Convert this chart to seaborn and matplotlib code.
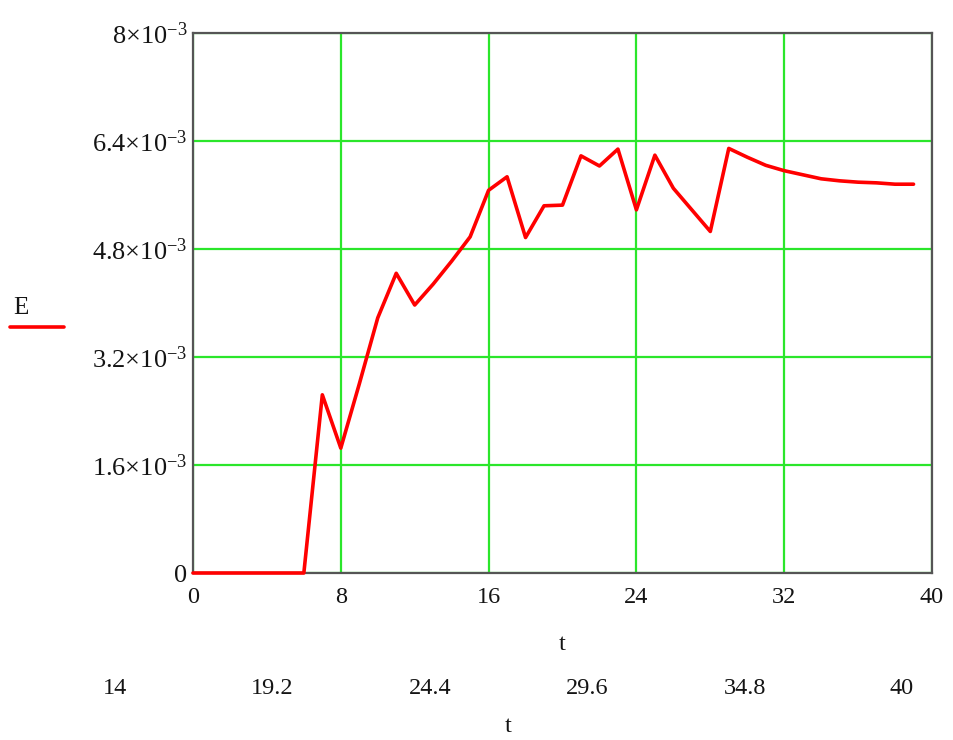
import matplotlib
matplotlib.use("Agg")
import matplotlib.pyplot as plt
import numpy as np
import pandas as pd
import seaborn as sns
from matplotlib.ticker import FixedLocator, FixedFormatter

# time steps and response E(t)
t = list(range(40))
E_values = [0, 0, 0, 0, 0, 0, 0,
            2.64e-3, 1.85e-3, 2.80e-3, 3.78e-3, 4.44e-3, 3.97e-3, 4.28e-3, 4.62e-3, 4.98e-3,
            5.67e-3, 5.87e-3, 4.97e-3, 5.44e-3, 5.45e-3, 6.18e-3, 6.03e-3, 6.28e-3,
            5.38e-3, 6.19e-3, 5.70e-3, 5.38e-3, 5.06e-3, 6.29e-3, 6.16e-3, 6.04e-3,
            5.96e-3, 5.90e-3, 5.84e-3, 5.81e-3, 5.79e-3, 5.78e-3, 5.76e-3, 5.76e-3]

x_ticks = [0, 8, 16, 24, 32, 40]
y_ticks = [0, 1.6e-3, 3.2e-3, 4.8e-3, 6.4e-3, 8e-3]
y_tick_labels = ["0", r"$1.6{\times}10^{-3}$", r"$3.2{\times}10^{-3}$",
                 r"$4.8{\times}10^{-3}$", r"$6.4{\times}10^{-3}$", r"$8{\times}10^{-3}$"]

# axis of the plot that follows below
lower_ticks = [14, 19.2, 24.4, 29.6, 34.8, 40]
lower_tick_labels = ["14", "19.2", "24.4", "29.6", "34.8", "40"]

sns.set_style("white")
plt.rcParams["font.family"] = ["Liberation Serif", "DejaVu Serif"]
plt.rcParams["mathtext.fontset"] = "custom"
plt.rcParams["mathtext.rm"] = "Liberation Serif"
plt.rcParams["mathtext.it"] = "Liberation Serif:italic"
plt.rcParams["mathtext.bf"] = "Liberation Serif:bold"

TXT = "#141414"
W, H = 954, 740
fig = plt.figure(figsize=(W / 100, H / 100), dpi=100)

left, right, top, bottom = 193, 932, 33, 573
ax = fig.add_axes([left / W, 1 - bottom / H, (right - left) / W, (bottom - top) / H])

df = pd.DataFrame({"t": t, "E": E_values})
sns.lineplot(data=df, x="t", y="E", color="#ff0000", linewidth=2.6, ax=ax,
             zorder=5, clip_on=False)

ax.set_xlim(0, 40)
ax.set_ylim(0, 8e-3)
ax.xaxis.set_major_locator(FixedLocator(x_ticks))
ax.xaxis.set_major_formatter(FixedFormatter([str(v) for v in x_ticks]))
ax.yaxis.set_major_locator(FixedLocator(y_ticks))
ax.yaxis.set_major_formatter(FixedFormatter(y_tick_labels))

ax.grid(True, color="#2be62b", linewidth=1.6)
ax.set_axisbelow(True)
for s in ax.spines.values():
    s.set_visible(True)
    s.set_color("#555555")
    s.set_linewidth(1.6)
    s.set_zorder(3)

ax.tick_params(axis="x", length=0, pad=10, labelsize=17.5, labelcolor=TXT)
ax.tick_params(axis="y", length=0, pad=4, labelsize=19, labelcolor=TXT)
ax.set_xlabel("t", fontsize=17.5, color=TXT, labelpad=19)
ax.set_ylabel("")

# legend key on the left
fig.text(21 / W, 1 - 308 / H, "E", fontsize=18, color=TXT, ha="center", va="center")
fig.add_artist(plt.Line2D([10 / W, 64 / W], [1 - 327 / H, 1 - 327 / H],
                          color="#ff0000", linewidth=2.6))

# axis labels of the next plot
ax2 = fig.add_axes([115 / W, 1 - 664 / H, (902 - 115) / W, 0.0005])
ax2.set_xlim(14, 40)
ax2.set_ylim(0, 1)
ax2.xaxis.set_major_locator(FixedLocator(lower_ticks))
ax2.xaxis.set_major_formatter(FixedFormatter(lower_tick_labels))
ax2.set_yticks([])
for s in ax2.spines.values():
    s.set_visible(False)
ax2.patch.set_visible(False)
ax2.tick_params(axis="x", length=0, pad=10, labelsize=17.5, labelcolor=TXT)
ax2.set_xlabel("t", fontsize=17.5, color=TXT, labelpad=12)

fig.savefig("out.png", dpi=100, facecolor="white")
